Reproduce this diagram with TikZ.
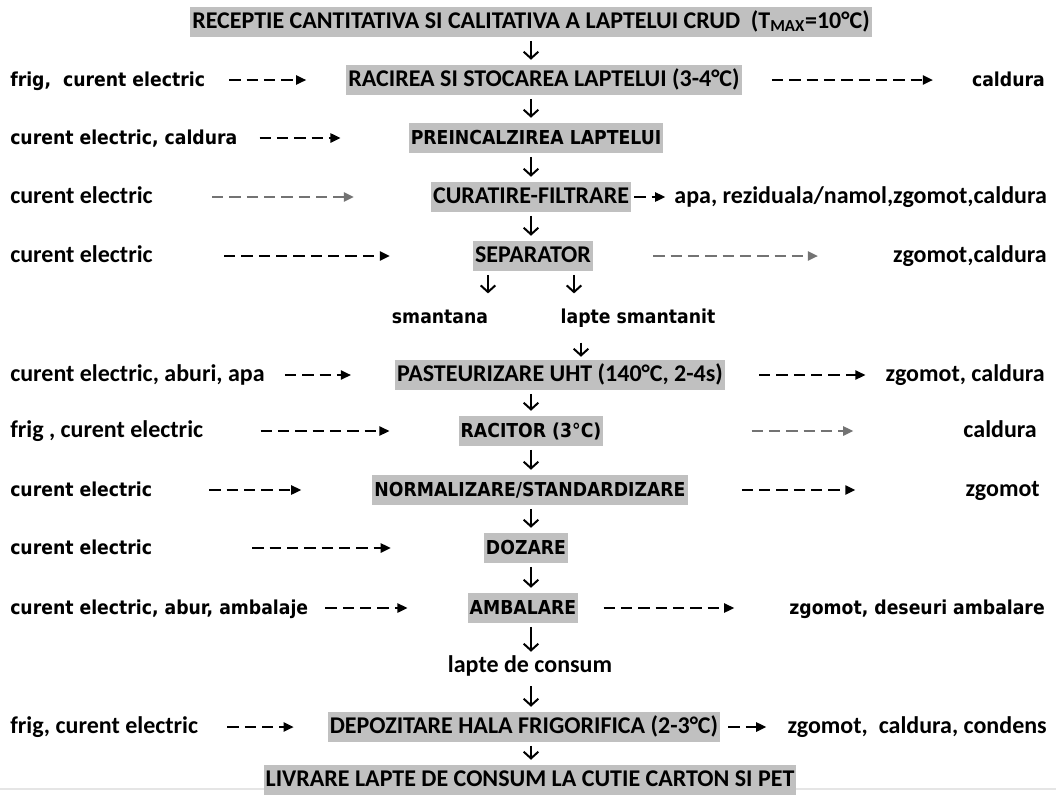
\documentclass[tikz,border=0pt]{standalone}
\usepackage{fontspec}
\setmainfont{Carlito}
\newfontfamily\widefont{DejaVu Sans Condensed}
\usetikzlibrary{positioning,arrows.meta}
\definecolor{boxgrey}{RGB}{192,192,192}
\definecolor{dashgrey}{RGB}{115,115,115}

\begin{document}
\begin{tikzpicture}[
  x=0.75pt, y=-0.75pt,
  narrow/.style = {font=\fontsize{18}{20}\selectfont\bfseries},
  wide/.style   = {font=\widefont\fontsize{14.4}{17}\selectfont\bfseries},
  proc/.style   = {fill=boxgrey, inner xsep=1.5pt, inner ysep=3pt,
                   text height=12.5pt, text depth=3.5pt},
  lab/.style    = {inner xsep=0pt, inner ysep=2pt,
                   text height=12.5pt, text depth=3.5pt},
  down/.style   = {-{Straight Barb[length=5pt,width=11pt]}, line width=1.5pt,
                   shorten <=3pt, shorten >=4pt},
  feed/.style   = {-{Triangle[length=7.5pt,width=7pt]}, line width=1.1pt,
                   dash pattern=on 8.5pt off 4.5pt},
  feedg/.style  = {feed, color=dashgrey},
]
\useasboundingbox (0,0) rectangle (1056,794);
\fill[white] (0,0) rectangle (1056,794);
\draw[gray!20, line width=0.8pt] (0,789) -- (1056,789);

% Process line, top to bottom
\node[proc, narrow] (recv)   at (531,22)  {RECEPTIE CANTITATIVA SI CALITATIVA A LAPTELUI CRUD\ \ (T\textsubscript{MAX}=10°C)};
\node[proc, narrow] (racire) at (544,80)  {RACIREA SI STOCAREA LAPTELUI (3-4°C)};
\node[proc, wide]   (preinc) at (536,138) {PREINCALZIREA LAPTELUI};
\node[proc, narrow] (curat)  at (531,197) {CURATIRE-FILTRARE};
\node[proc, narrow] (separ)  at (533,256) {SEPARATOR};
\node[lab, wide]    (smant)  at (440,317) {smantana};
\node[lab, wide]    (lsmant) at (638,317) {lapte smantanit};
\node[proc, narrow] (past)   at (560,375) {PASTEURIZARE UHT (140°C, 2-4s)};
\node[proc, wide]   (racit)  at (531,431) {RACITOR (3°C)};
\node[proc, wide]   (norm)   at (530,490) {NORMALIZARE/STANDARDIZARE};
\node[proc, wide]   (doz)    at (526,548) {DOZARE};
\node[proc, wide]   (amb)    at (523,608) {AMBALARE};
\node[lab, narrow]  (lcons)  at (530,666) {lapte de consum};
\node[proc, narrow] (depoz)  at (524,727) {DEPOZITARE HALA FRIGORIFICA (2-3°C)};
\node[proc, narrow] (livr)   at (530,780) {LIVRARE LAPTE DE CONSUM LA CUTIE CARTON SI PET};

% Inputs on the left
\node[lab, wide,   anchor=west] (in1)  at (10,80)  {frig,\ \ curent electric};
\node[lab, wide,   anchor=west] (in2)  at (10,138) {curent electric, caldura};
\node[lab, narrow, anchor=west] (in3)  at (10,197) {curent electric};
\node[lab, narrow, anchor=west] (in4)  at (10,256) {curent electric};
\node[lab, narrow, anchor=west] (in5)  at (10,375) {curent electric, aburi, apa};
\node[lab, narrow, anchor=west] (in6)  at (10,431) {frig , curent electric};
\node[lab, wide,   anchor=west] (in7)  at (10,490) {curent electric};
\node[lab, wide,   anchor=west] (in8)  at (10,548) {curent electric};
\node[lab, wide,   anchor=west] (in9)  at (10,608) {curent electric, abur, ambalaje};
\node[lab, narrow, anchor=west] (in10) at (10,727) {frig, curent electric};

% Outputs on the right
\node[lab, wide,   anchor=east] (out1)  at (1045,80)  {caldura};
\node[lab, narrow, anchor=east] (out3)  at (1047,197) {apa, reziduala/namol,zgomot,caldura};
\node[lab, narrow, anchor=east] (out4)  at (1047,256) {zgomot,caldura};
\node[lab, narrow, anchor=east] (out5)  at (1045,375) {zgomot, caldura};
\node[lab, narrow, anchor=east] (out6)  at (1037,431) {caldura};
\node[lab, narrow, anchor=east] (out7)  at (1040,490) {zgomot};
\node[lab, wide,   anchor=east] (out9)  at (1045,608) {zgomot, deseuri ambalare};
\node[lab, narrow, anchor=east] (out10) at (1047,727) {zgomot,\ \ caldura, condens};

% Main flow arrows
\coordinate (ax) at (531,0);
\coordinate (sx1) at (488,0);
\coordinate (sx2) at (574,0);
\coordinate (sx3) at (581,0);
\draw[down] (recv.south -| ax)   -- (racire.north -| ax);
\draw[down] (racire.south -| ax) -- (preinc.north -| ax);
\draw[down] (preinc.south -| ax) -- (curat.north -| ax);
\draw[down] (curat.south -| ax)  -- (separ.north -| ax);
\draw[down, shorten >=7.5pt] (separ.south -| sx1) -- (smant.north -| sx1);
\draw[down, shorten >=7.5pt] (separ.south -| sx2) -- (lsmant.north -| sx2);
\draw[down, shorten <=9pt, shorten >=2.5pt] (lsmant.south -| sx3) -- (past.north -| sx3);
\draw[down] (past.south -| ax)   -- (racit.north -| ax);
\draw[down] (racit.south -| ax)  -- (norm.north -| ax);
\draw[down] (norm.south -| ax)   -- (doz.north -| ax);
\draw[down] (doz.south -| ax)    -- (amb.north -| ax);
\draw[down, shorten >=0.5pt] (amb.south -| ax) -- (lcons.north -| ax);
\draw[down, shorten <=5pt] (lcons.south -| ax) -- (depoz.north -| ax);
\draw[down] (depoz.south -| ax)  -- (livr.north -| ax);

% Dashed feeds in and out (gaps kept by shortening)
\draw[feed,  shorten <=18pt,   shorten >=30pt]   (in1) -- (racire);
\draw[feed,  shorten <=22.5pt, shorten >=29.25pt] (racire) -- (out1);
\draw[feed,  shorten <=16.5pt, shorten >=51pt]   (in2) -- (preinc);
\draw[feedg, shorten <=44.25pt, shorten >=57.75pt] (in3) -- (curat);
\draw[feed,  shorten <=2.25pt, shorten >=6.75pt] (curat) -- (out3);
\draw[feed,  shorten <=53.25pt, shorten >=62.25pt] (in4) -- (separ);
\draw[feedg, shorten <=45pt,   shorten >=56.25pt] (separ) -- (out4);
\draw[feed,  shorten <=15pt,   shorten >=33pt]   (in5) -- (past);
\draw[feed,  shorten <=25.5pt, shorten >=15pt]   (past) -- (out5);
\draw[feed,  shorten <=42.75pt, shorten >=51.75pt] (in6) -- (racit);
\draw[feedg, shorten <=111pt,  shorten >=82.5pt] (racit) -- (out6);
\draw[feed,  shorten <=42.75pt, shorten >=53.25pt] (in7) -- (norm);
\draw[feed,  shorten <=40.5pt, shorten >=82.5pt] (norm) -- (out7);
\draw[feed,  shorten <=75pt,   shorten >=69.75pt] (in8) -- (doz);
\draw[feed,  shorten <=12.75pt, shorten >=45pt]  (in9) -- (amb);
\draw[feed,  shorten <=18.75pt, shorten >=41.25pt] (amb) -- (out9);
\draw[feed,  shorten <=21.75pt, shorten >=25.5pt] (in10) -- (depoz);
\draw[feed,  shorten <=6pt,    shorten >=15.75pt] (depoz) -- (out10);
\end{tikzpicture}
\end{document}
